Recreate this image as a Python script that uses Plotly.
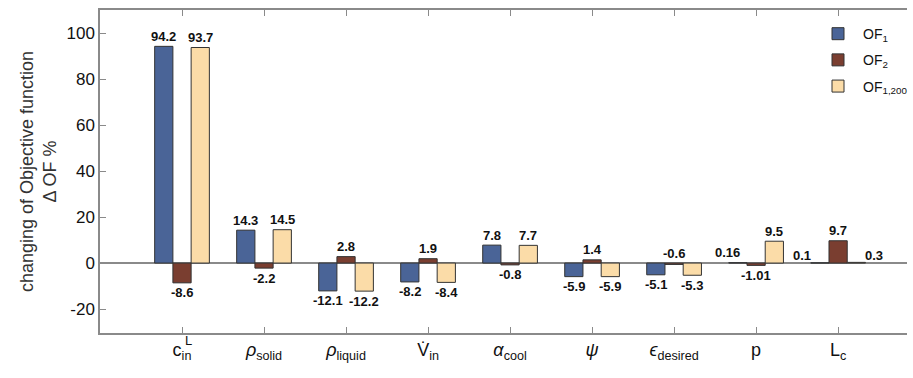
import plotly.graph_objects as go

categories = ["c_in^L", "rho_solid", "rho_liquid", "Vdot_in", "alpha_cool", "psi", "eps_desired", "p", "L_c"]
tick_labels = ["c<sub>in</sub>", "<i>ρ</i><sub>solid</sub>", "<i>ρ</i><sub>liquid</sub>", "V̇<sub>in</sub>",
               "<i>α</i><sub>cool</sub>", "<i>ψ</i>", "<i>ϵ</i><sub>desired</sub>", "p", "L<sub>c</sub>"]
of1 = [94.2, 14.3, -12.1, -8.2, 7.8, -5.9, -5.1, 0.16, 0.1]
of2 = [-8.6, -2.2, 2.8, 1.9, -0.8, 1.4, -0.6, -1.01, 9.7]
of1_200 = [93.7, 14.5, -12.2, -8.4, 7.7, -5.9, -5.3, 9.5, 0.3]
of1_txt = ["94.2", "14.3", "-12.1", "-8.2", "7.8", "-5.9", "-5.1", "0.16", "0.1"]
of2_txt = ["-8.6", "-2.2", "2.8", "1.9", "-0.8", "1.4", "-0.6", "-1.01", "9.7"]
of1_200_txt = ["93.7", "14.5", "-12.2", "-8.4", "7.7", "-5.9", "-5.3", "9.5", "0.3"]
y_ticks = [-20, 0, 20, 40, 60, 80, 100]
y_tick_labels = ["-20", "0", "20", "40", "60", "80", "100"]

# label placement style (above / below / left / right of bar)
of1_lab = ["up", "up", "down", "down", "up", "down", "down", "upleft", "left"]
of2_lab = ["down", "down", "up", "up", "down", "up", "up", "down", "up"]
of1_200_lab = ["up", "up", "down", "down", "up", "down", "down", "up", "right"]

series = [
    ("OF<sub>1</sub>", of1, of1_txt, of1_lab, "#4A6497"),
    ("OF<sub>2</sub>", of2, of2_txt, of2_lab, "#7A3E30"),
    ("OF<sub>1,200</sub>", of1_200, of1_200_txt, of1_200_lab, "#FBDCA8"),
]

bargap = 0.333
bw = (1 - bargap) / len(series)
xs = list(range(len(categories)))
fig = go.Figure()
for k, (name, vals, txt, lab, col) in enumerate(series):
    fig.add_trace(go.Bar(
        x=xs, y=vals, name=name, legendgroup=name,
        marker=dict(color=col, line=dict(color="#333333", width=1)),
    ))
    off = (k - 1) * bw
    for i, (v, t, l) in enumerate(zip(vals, txt, lab)):
        base = max(v, 0) if l in ("up", "upleft") else (min(v, 0) if l == "down" else 0)
        ys = {"up": 10, "upleft": 10, "down": -10, "left": 8, "right": 8}[l]
        xsh = {"up": 0, "upleft": -10, "down": 0, "left": -18, "right": 18}[l]
        fig.add_annotation(x=i + off, y=base, xref="x", yref="y", text=t, showarrow=False,
                           yshift=ys, xshift=xsh,
                           font=dict(family="Arial, Liberation Sans", size=13, color="#111111",
                                     weight="bold"))

fig.update_layout(
    width=913, height=378,
    margin=dict(l=100, r=0, t=10, b=45),
    barmode="group", bargap=bargap, bargroupgap=0,
    plot_bgcolor="white", paper_bgcolor="white",
    font=dict(family="Arial, Liberation Sans", color="#222222"),
    legend=dict(x=0.884, y=0.975, xanchor="left", yanchor="top",
                font=dict(size=14, color="#111111"), bgcolor="rgba(0,0,0,0)",
                itemwidth=40, tracegroupgap=5),
    xaxis=dict(range=[-1, 8.84], tickmode="array", tickvals=xs, ticktext=tick_labels,
               tickfont=dict(size=18, color="#111111"), showline=True, linecolor="#8a8a8a",
               linewidth=1.5, mirror="ticks", ticks="inside", ticklen=6, tickcolor="#8a8a8a",
               showgrid=False, zeroline=False),
    yaxis=dict(range=[-30.4, 110], tickmode="array", tickvals=y_ticks, ticktext=y_tick_labels,
               tickfont=dict(size=17, color="#111111"), showline=True, linecolor="#8a8a8a",
               linewidth=1.5, ticks="inside", ticklen=6, tickcolor="#8a8a8a",
               showgrid=False, zeroline=True, zerolinecolor="#8a8a8a", zerolinewidth=1.5,
               title=dict(text="changing of Objective function<br>Δ OF %",
                          font=dict(size=18, color="#333333"), standoff=5)),
)

# superscript "L" on the first category label
fig.add_annotation(x=xs[0], y=0, xref="x", yref="paper", text="L", showarrow=False,
                   yshift=-17, xshift=6, font=dict(size=13, color="#111111"))

fig.write_html("out.html")
